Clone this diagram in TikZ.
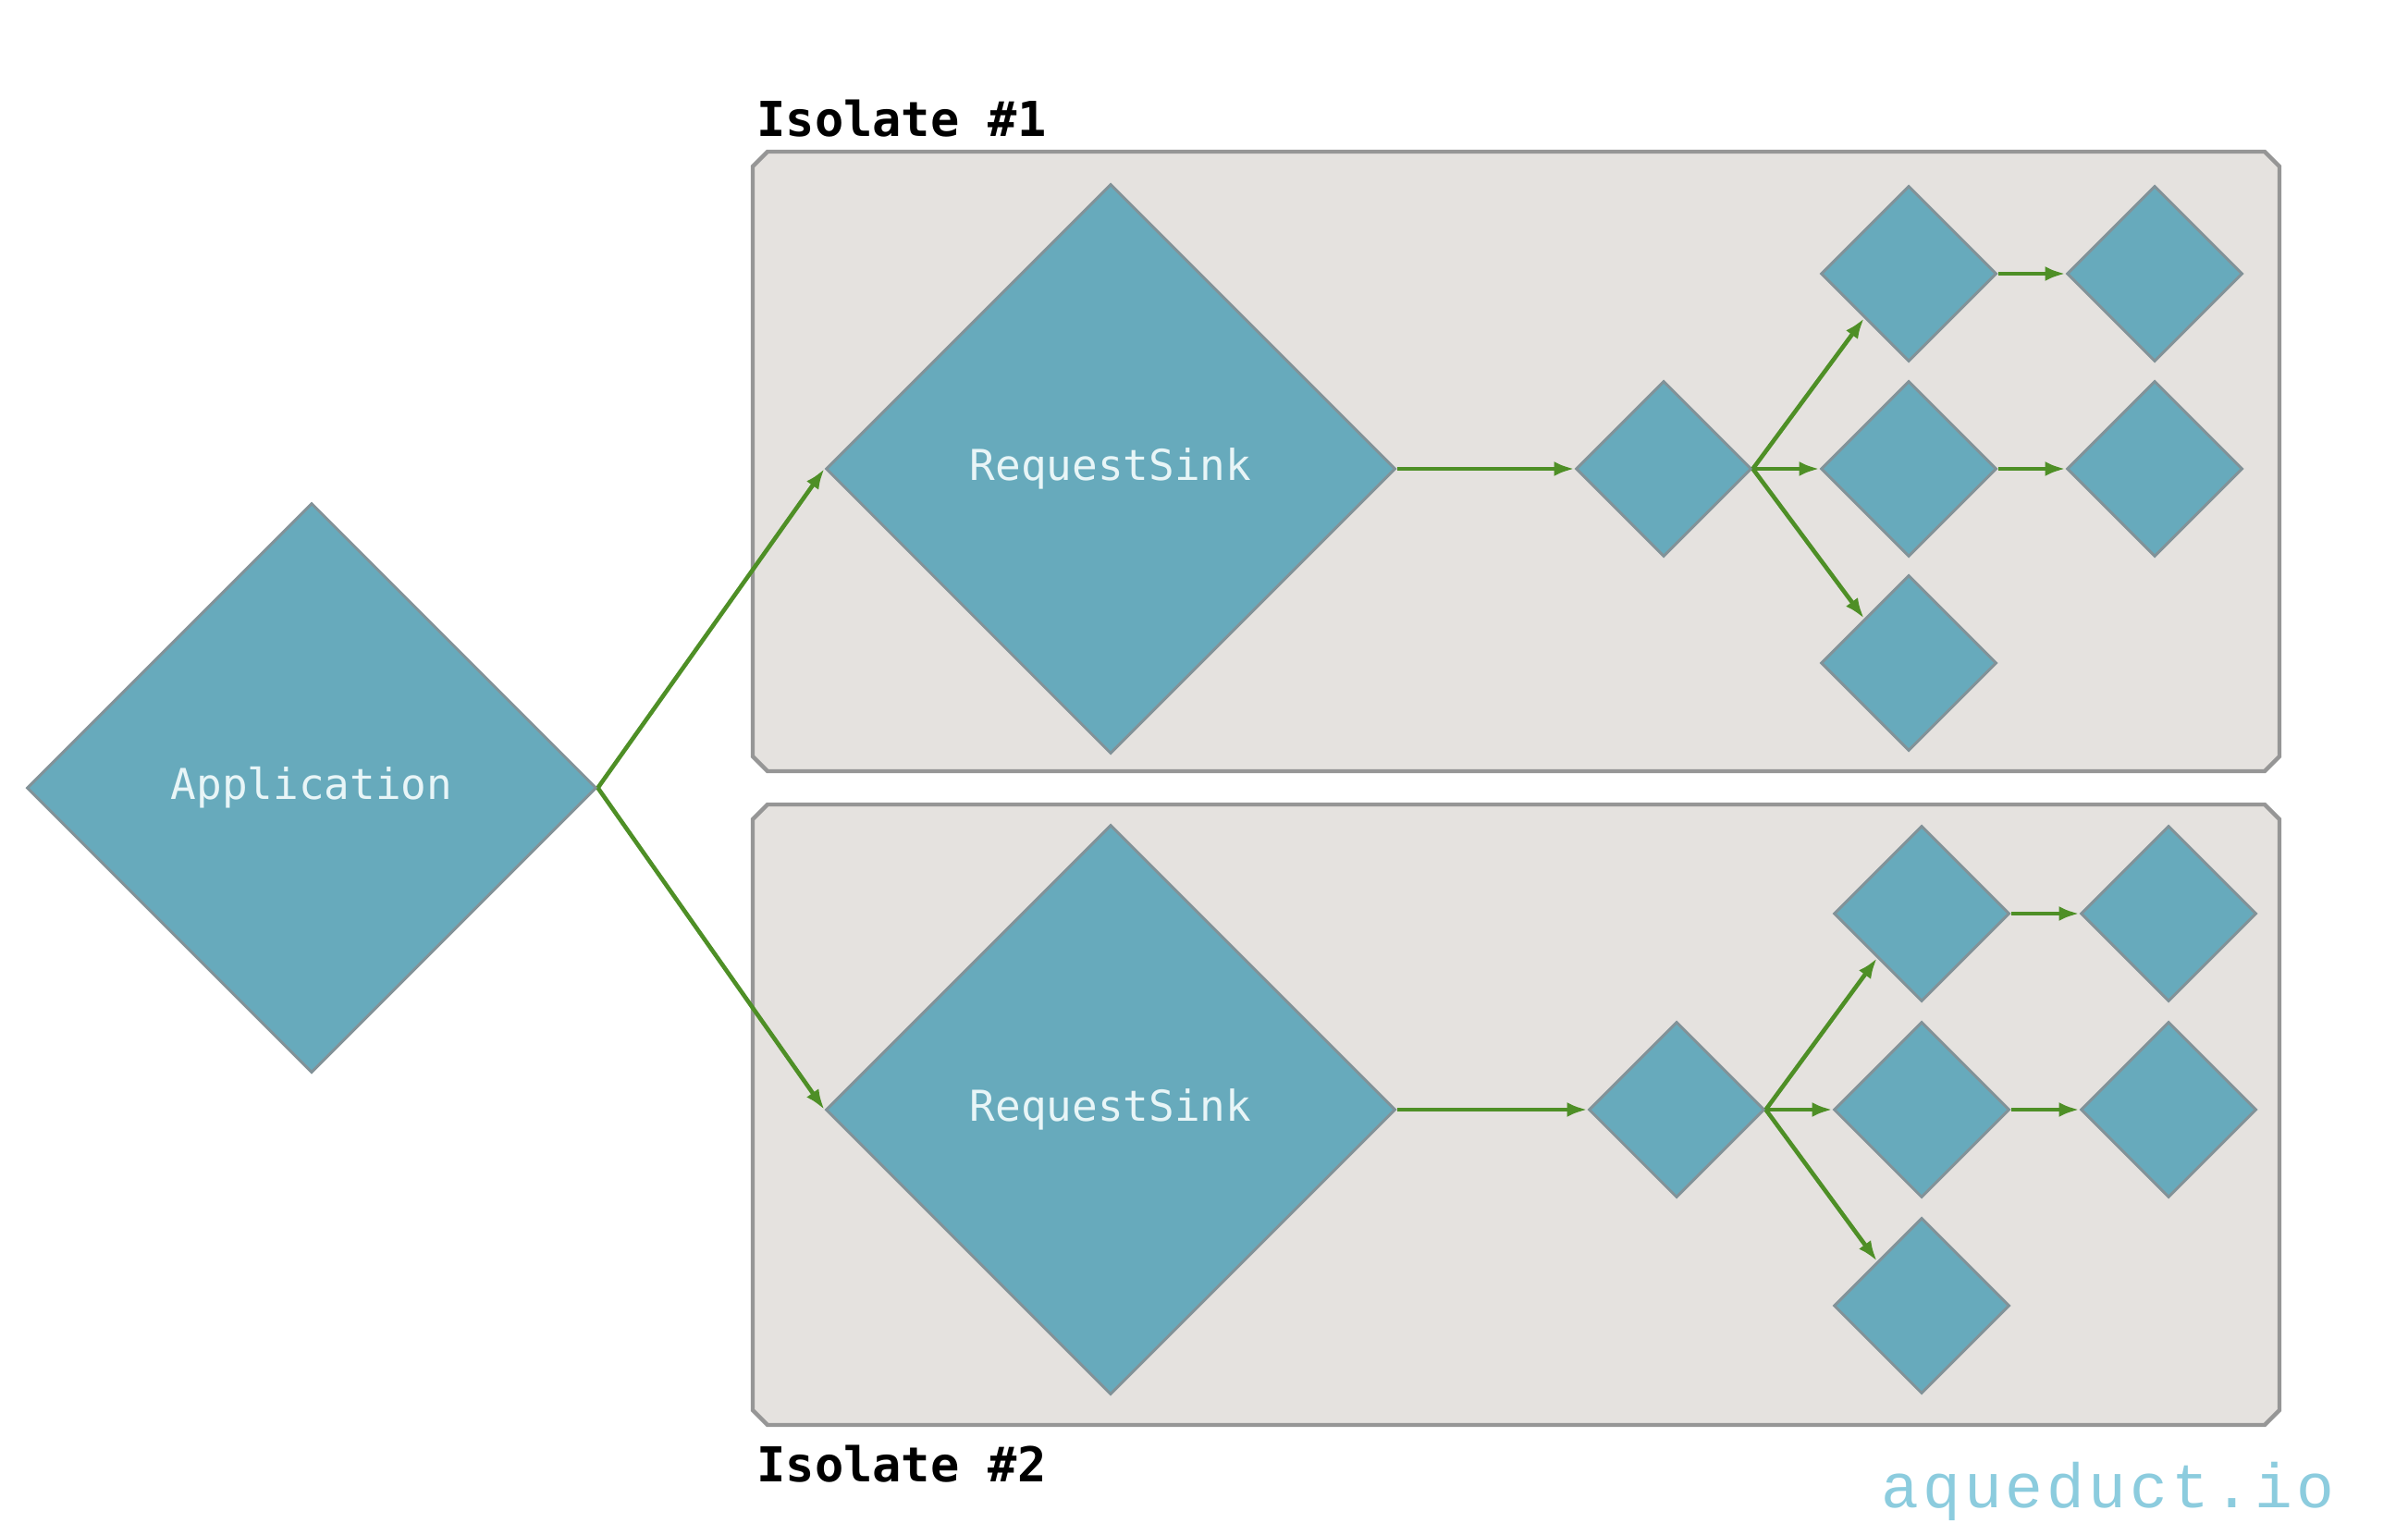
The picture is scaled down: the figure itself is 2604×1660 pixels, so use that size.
\documentclass[tikz,border=0pt]{standalone}
\usepackage{fontspec}
\usetikzlibrary{shapes.geometric,arrows.meta}
\newfontfamily\dmono{DejaVu Sans Mono}
\newfontfamily\lmono[LetterSpace=6]{Liberation Mono}
\definecolor{dfill}{RGB}{103,170,188}
\definecolor{dline}{RGB}{130,146,152}
\definecolor{bfill}{RGB}{229,226,223}
\definecolor{bline}{RGB}{150,150,150}
\definecolor{agreen}{RGB}{78,143,38}
\definecolor{dtext}{RGB}{232,245,247}
\definecolor{brand}{RGB}{140,204,222}
\begin{document}
\begin{tikzpicture}[x=0.5pt,y=-0.5pt,
  dia/.style={diamond,aspect=1,inner sep=0pt,fill=dfill,draw=dline,line width=1.5pt,
    text=dtext,font=\dmono\fontsize{23}{26}\selectfont},
  bigdia/.style={dia,minimum width=308pt,minimum height=308pt},
  smalldia/.style={dia,minimum width=95pt,minimum height=95pt},
  isobox/.style={fill=bfill,draw=bline,line width=2.2pt,line join=miter},
  arr/.style={draw=agreen,line width=2.3pt,-{Latex[length=11pt,width=8pt]}},
  lbl/.style={font=\dmono\bfseries\fontsize{26}{30}\selectfont,anchor=west,inner sep=0pt}
]
\useasboundingbox (0,0) rectangle (2604,1660);
% isolate boxes
\draw[isobox] (830,164) -- (2449,164) -- (2465,180) -- (2465,818) -- (2449,834)
  -- (830,834) -- (814,818) -- (814,180) -- cycle;
\draw[isobox] (830,870) -- (2449,870) -- (2465,886) -- (2465,1525) -- (2449,1541)
  -- (830,1541) -- (814,1525) -- (814,886) -- cycle;
\node[lbl] (iso1) at (818,128) {Isolate \#1};
\node[lbl] (iso2) at (818,1583) {Isolate \#2};
\node[font=\lmono\fontsize{34}{40}\selectfont,text=brand,anchor=west,inner sep=0pt] (brandlbl) at (2034,1613) {aqueduct.io};
% diamonds
\node[bigdia] (app) at (337,852) {Application};
\node[bigdia] (rsa) at (1201,507) {RequestSink};
\node[bigdia] (rsb) at (1201,1200) {RequestSink};
% isolate 1
\node[smalldia] (a0) at (1799,507) {};
\node[smalldia] (a1) at (2064,296) {};
\node[smalldia] (a2) at (2064,507) {};
\node[smalldia] (a3) at (2064,717) {};
\node[smalldia] (a4) at (2330,296) {};
\node[smalldia] (a5) at (2330,507) {};
% isolate 2
\node[smalldia] (b0) at (1813,1200) {};
\node[smalldia] (b1) at (2078,988) {};
\node[smalldia] (b2) at (2078,1200) {};
\node[smalldia] (b3) at (2078,1412) {};
\node[smalldia] (b4) at (2345,988) {};
\node[smalldia] (b5) at (2345,1200) {};
% connectors
\draw[arr] (app.east) -- (rsa.west);
\draw[arr] (app.east) -- (rsb.west);
\draw[arr] (rsa.east) -- (a0.west);
\draw[arr] (a0.east) -- (a1.south west);
\draw[arr] (a0.east) -- (a2.west);
\draw[arr] (a0.east) -- (a3.north west);
\draw[arr] (a1.east) -- (a4.west);
\draw[arr] (a2.east) -- (a5.west);
\draw[arr] (rsb.east) -- (b0.west);
\draw[arr] (b0.east) -- (b1.south west);
\draw[arr] (b0.east) -- (b2.west);
\draw[arr] (b0.east) -- (b3.north west);
\draw[arr] (b1.east) -- (b4.west);
\draw[arr] (b2.east) -- (b5.west);
\end{tikzpicture}
\end{document}
